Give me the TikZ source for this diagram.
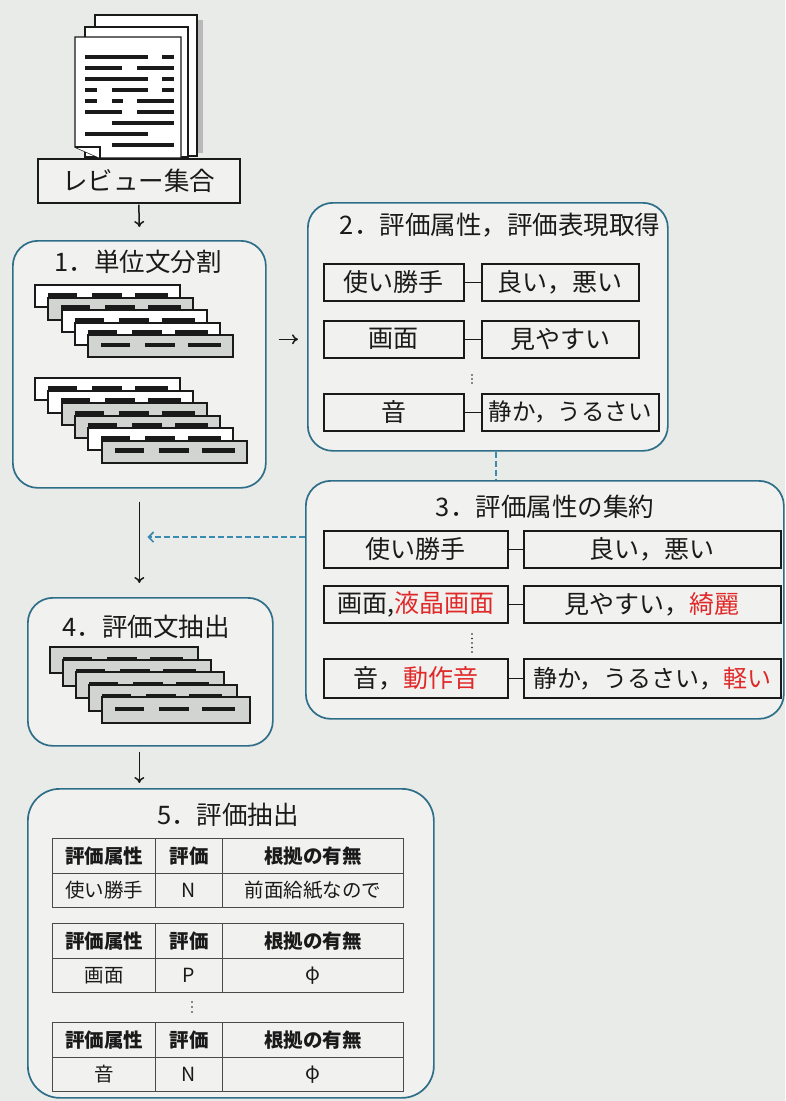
\documentclass[tikz,border=0pt]{standalone}
\usepackage{fontspec}
\setmainfont{Noto Sans CJK JP}
\usetikzlibrary{arrows.meta,calc}

\definecolor{paper}{HTML}{E9EBE8}
\definecolor{frame}{HTML}{2F6E88}
\definecolor{flow}{HTML}{3A8BB0}
\definecolor{hl}{HTML}{E02A2A}
\definecolor{stripgray}{HTML}{D2D4D2}
\definecolor{ink}{HTML}{1A1A1A}
\definecolor{rule}{HTML}{4A4A4A}

\tikzset{
  stage/.style={draw=frame, line width=1.7pt, rounded corners=25pt, anchor=north west,
    inner sep=0pt, fill=white!35!paper},
  cell/.style={draw=ink, line width=1.6pt, anchor=north west, inner sep=0pt,
    minimum height=37pt, text=ink, fill=white!35!paper, font=\fontsize{25pt}{27pt}\selectfont},
  title/.style={font=\fontsize{25.5pt}{28pt}\selectfont, text=ink, inner sep=0pt},
  tcell/.style={draw=rule, line width=1pt, anchor=north west, inner sep=0pt, text=ink,
    font=\fontsize{19.5pt}{21pt}\selectfont},
  thead/.style={tcell, minimum height=35pt, font=\fontsize{19.5pt}{21pt}\selectfont\bfseries},
  tbody/.style={tcell, minimum height=34pt},
  link/.style={draw=ink, line width=1.4pt},
  arr/.style={draw=ink, line width=1.5pt, -{To[length=6pt,width=10pt]}},
  flowdash/.style={draw=flow, line width=1.7pt, dash pattern=on 6pt off 3pt},
  strip/.style={draw=ink, line width=2pt, fill=#1},
  txtline/.style={draw=ink, line width=4.5pt},
  docline/.style={draw=ink, line width=3.2pt},
  page/.style={draw=ink, line width=1.4pt, fill=white},
}

% one sentence strip: x, y (top left), width, height, fill
\newcommand\sentstrip[5]{%
  \draw[strip=#5] (#1,#2) rectangle ++(#3,#4);
  \draw[txtline] (#1+13,#2+#4/2-1) -- (#1+42,#2+#4/2-1);
  \draw[txtline] (#1+57,#2+#4/2-1) -- (#1+87,#2+#4/2-1);
  \draw[txtline] (#1+100,#2+#4/2-1) -- (#1+133,#2+#4/2-1);
}

% one result table: name prefix, top y, attribute, polarity, reason
\newcommand\evaltable[5]{%
  \node[thead, minimum width=103pt] (#1a) at (52,#2) {評価属性};
  \node[thead, minimum width=67pt]  (#1b) at (155,#2) {評価};
  \node[thead, minimum width=181pt] (#1c) at (222,#2) {根拠の有無};
  \node[tbody, minimum width=103pt] (#1d) at (52,#2+35) {#3};
  \node[tbody, minimum width=67pt]  (#1e) at (155,#2+35) {#4};
  \node[tbody, minimum width=181pt] (#1f) at (222,#2+35) {#5};
}

\begin{document}
\begin{tikzpicture}[x=1pt,y=-1pt]
  \fill[paper] (0,0) rectangle (785,1101);
  \useasboundingbox (0,0) rectangle (785,1101);

  % ---- stack of review documents ----
  \fill[gray!55] (197,20) rectangle (203,153);
  \draw[page] (95,15) rectangle (197,156);
  \draw[page] (85,27) rectangle (188,157);
  \draw[page] (75,37) -- (181,37) -- (181,158) -- (100,158) -- (75,147) -- cycle;
  \draw[page] (75,147) -- (100,147) -- (100,158);
  \foreach \ly/\segs in {
      57/{85/148,162/174},
      68/{85/122,137/174},
      79/{85/148,162/174},
      90/{85/97,112/148,162/174},
      101/{85/97,112/123,137/174},
      112/{85/122,137/174},
      123/{112/174},
      134/{85/148},
      145/{112/174}}{
    \foreach \sa/\sb in \segs { \draw[docline] (\sa,\ly) -- (\sb,\ly); }
  }

  \node[cell, minimum width=202pt, minimum height=44pt, font=\fontsize{25.5pt}{27pt}\selectfont]
    (rv) at (37,158) {レビュー集合};

  % ---- stage frames ----
  \node[stage, minimum width=253pt, minimum height=247pt] (b1) at (12,240) {};
  \node[stage, minimum width=360pt, minimum height=248pt] (b2) at (307,202) {};
  \node[stage, minimum width=478pt, minimum height=238pt] (b3) at (305,480) {};
  \node[stage, minimum width=245pt, minimum height=148pt] (b4) at (27,597) {};
  \node[stage, minimum width=406pt, minimum height=309pt, rounded corners=32pt] (b5) at (27,788) {};

  % ---- stage titles ----
  \node[title] (t1) at (138,262) {1．単位文分割};
  \node[title] (t2) at (500,225) {2．評価属性，評価表現取得};
  \node[title] (t3) at (545,507) {3．評価属性の集約};
  \node[title] (t4) at (146,627) {4．評価文抽出};
  \node[title] (t5) at (228,815) {5．評価抽出};

  % ---- 1: split sentences ----
  \foreach \i/\f in {0/white,1/stripgray,2/white,3/white,4/stripgray}{
    \pgfmathsetmacro\sx{35+13.3*\i}\pgfmathsetmacro\sy{285+12.5*\i}
    \sentstrip{\sx}{\sy}{145}{22}{\f}
  }
  \foreach \i/\f in {0/white,1/white,2/stripgray,3/stripgray,4/white,5/stripgray}{
    \pgfmathsetmacro\sx{35+13.3*\i}\pgfmathsetmacro\sy{378+12.5*\i}
    \sentstrip{\sx}{\sy}{145}{22}{\f}
  }

  % ---- 4: evaluative sentences ----
  \foreach \i in {0,...,4}{
    \pgfmathsetmacro\sx{50+13*\i}\pgfmathsetmacro\sy{647+12.5*\i}
    \sentstrip{\sx}{\sy}{148}{26}{stripgray}
  }

  % ---- 2: attribute / expression pairs ----
  \node[cell, minimum width=140pt] (pa1) at (323,263) {使い勝手};
  \node[cell, minimum width=157pt] (pe1) at (481,263) {良い，悪い};
  \node[cell, minimum width=140pt] (pa2) at (323,320) {画面};
  \node[cell, minimum width=157pt] (pe2) at (481,320) {見やすい};
  \node[cell, minimum width=140pt] (pa3) at (323,393) {音};
  \node[cell, minimum width=177pt, font=\fontsize{23.5pt}{26pt}\selectfont] (pe3) at (481,393) {静か，うるさい};
  \foreach \k in {1,2,3} { \draw[link] (pa\k.east) -- (pe\k.west); }
  \foreach \yy in {375,379,383} { \fill[ink] (472,\yy) circle (0.9pt); }

  % ---- 3: merged attributes ----
  \node[cell, minimum width=184pt] (qa1) at (323,530) {使い勝手};
  \node[cell, minimum width=257pt] (qe1) at (523,530) {良い，悪い};
  \node[cell, minimum width=184pt] (qa2) at (323,585) {画面,\textcolor{hl}{液晶画面}};
  \node[cell, minimum width=257pt] (qe2) at (523,585) {見やすい，\textcolor{hl}{綺麗}};
  \node[cell, minimum width=184pt, minimum height=39pt] (qa3) at (323,658) {音，\textcolor{hl}{動作音}};
  \node[cell, minimum width=257pt, minimum height=39pt, font=\fontsize{24pt}{26pt}\selectfont] (qe3) at (523,658) {静か，うるさい，\textcolor{hl}{軽い}};
  \foreach \k in {1,2,3} { \draw[link] (qa\k.east) -- (qe\k.west); }
  \foreach \yy in {634,638.5,643,647.5,652} { \fill[ink] (472,\yy) circle (0.9pt); }

  % ---- 5: extraction results ----
  \evaltable{ta}{838}{使い勝手}{N}{前面給紙なので}
  \evaltable{tb}{923}{画面}{P}{φ}
  \evaltable{tc}{1022}{音}{N}{φ}
  \foreach \yy in {1002,1007,1012} { \fill[ink] (192,\yy) circle (0.9pt); }

  % ---- flow ----
  \draw[arr] ([yshift=-1pt]rv.south) -- ([yshift=13pt]b1.north);
  \draw[arr] ([xshift=12pt]b1.east |- pa2.west) -- ([xshift=-9pt]b2.west |- pa2.west);
  \draw[arr] ([yshift=-13pt]b1.south) -- ([yshift=14pt]b1.south |- b4.north);
  \draw[arr] (b1.south |- b4.south) ++(0,5) -- ([yshift=5pt]b1.south |- b5.north);

  \coordinate (dj) at (496,465);
  \coordinate (dh) at (0,537);
  \draw[flowdash] (b2.south -| dj) -- (b3.north -| dj);
  \draw[flowdash, -{Straight Barb[length=5pt,width=10pt]}]
    (b3.west |- dh) -- ([xshift=8pt]b1.south |- dh);
\end{tikzpicture}
\end{document}
